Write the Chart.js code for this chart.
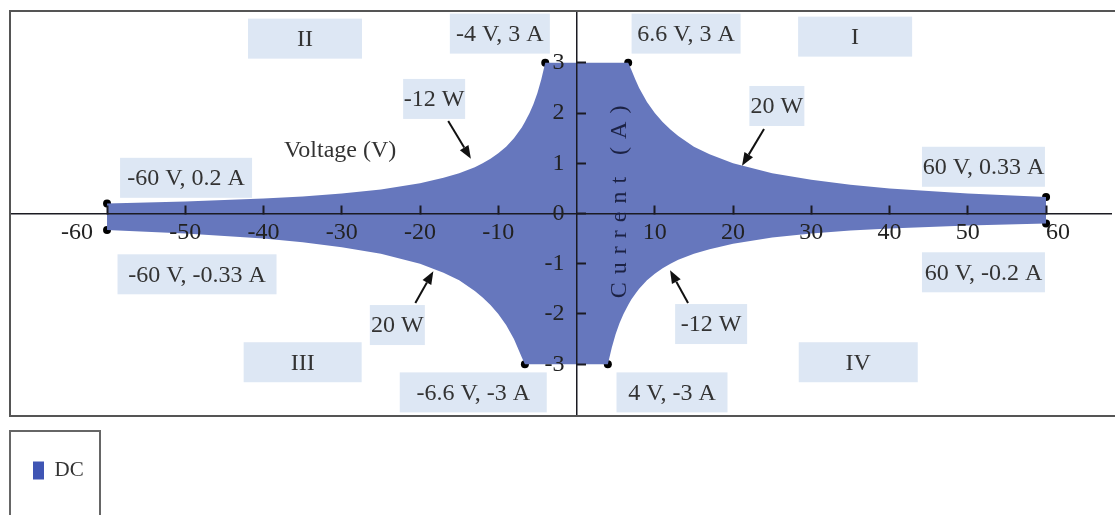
<!DOCTYPE html>
<html>
<head>
<meta charset="utf-8">
<script src="https://cdn.jsdelivr.net/npm/chart.js@4/dist/chart.umd.min.js"></script>
<style>
html,body{margin:0;padding:0;background:#fff;}
canvas{display:block;}
</style>
</head>
<body>
<canvas id="c" width="1115" height="515"></canvas>
<script>
// ---- data ----
const voltage = [-60,-50,-40,-35,-30,-25,-20,-17,-15,-13,-12,-11,-10,-9,-8,-7,-6.6,-6,-5.5,-5,-4.5,-4,0,4,4.5,5,5.5,6,6.6,7,7.5,8,9,10,11,12,13,15,17,20,25,30,35,40,50,60];
const currentUpper = [0.20,0.24,0.30,0.34,0.40,0.48,0.60,0.71,0.80,0.92,1.00,1.09,1.20,1.33,1.50,1.71,1.82,2.00,2.18,2.40,2.67,3,3,3,3,3,3,3,3,2.86,2.67,2.50,2.22,2.00,1.82,1.67,1.54,1.33,1.18,1.00,0.80,0.67,0.57,0.50,0.40,0.33];
const currentLower = [-0.33,-0.40,-0.50,-0.57,-0.67,-0.80,-1.00,-1.18,-1.33,-1.54,-1.67,-1.82,-2.00,-2.22,-2.50,-2.86,-3,-3,-3,-3,-3,-3,-3,-3,-2.67,-2.40,-2.18,-2.00,-1.82,-1.71,-1.60,-1.50,-1.33,-1.20,-1.09,-1.00,-0.92,-0.80,-0.71,-0.60,-0.48,-0.40,-0.34,-0.30,-0.24,-0.20];
const cornerVoltage = [-60,-60,-4,6.6,-6.6,4,60,60];
const cornerCurrent = [0.2,-0.33,3,3,-3,-3,0.33,-0.2];
const xTickValues = [-60,-50,-40,-30,-20,-10,10,20,30,40,50,60];
const yTickValues = [-3,-2,-1,0,1,2,3];
const seriesName = 'DC';

// ---- annotation texts (anchored in data units) ----
const boxLabels = [
  {text:'I', x:35.6, y:3.52, w:114},
  {text:'II', x:-34.7, y:3.48, w:114},
  {text:'III', x:-35.0, y:-2.96, w:118},
  {text:'IV', x:36.0, y:-2.96, w:119},
  {text:'-4 V, 3 A', x:-9.8, y:3.58, w:100},
  {text:'6.6 V, 3 A', x:14.0, y:3.58, w:109},
  {text:'-60 V, 0.2 A', x:-49.9, y:0.71, w:132},
  {text:'60 V, 0.33 A', x:52.0, y:0.93, w:123},
  {text:'-60 V, -0.33 A', x:-48.5, y:-1.21, w:159},
  {text:'60 V, -0.2 A', x:52.0, y:-1.17, w:123},
  {text:'-6.6 V, -3 A', x:-13.2, y:-3.56, w:147},
  {text:'4 V, -3 A', x:12.2, y:-3.56, w:111},
  {text:'-12 W', x:-18.2, y:2.28, w:62},
  {text:'20 W', x:25.6, y:2.14, w:55},
  {text:'20 W', x:-22.9, y:-2.22, w:55},
  {text:'-12 W', x:17.2, y:-2.2, w:72}
];
const arrows = [
  {x1:-16.4, y1:1.84, x2:-13.5, y2:1.09},
  {x1:23.96, y1:1.68, x2:21.15, y2:0.95},
  {x1:-20.6, y1:-1.78, x2:-18.3, y2:-1.15},
  {x1:14.25, y1:-1.78, x2:11.95, y2:-1.13}
];

const FONT = "'Liberation Serif', 'DejaVu Serif', serif";
const FILL = '#6677bd';
const LEGEND_COLOR = '#3f55b4';
const AXIS = '#1b1b22';

const upperPts = voltage.map((v,i)=>({x:v, y:currentUpper[i]}));
const lowerPts = voltage.map((v,i)=>({x:v, y:currentLower[i]}));
const cornerPts = cornerVoltage.map((v,i)=>({x:v, y:cornerCurrent[i]}));

// end labels sit outside the filled envelope, as in the reference
function xTickText(v) {
  if (v === xTickValues[0]) return String(v) + '          ';
  if (v === xTickValues[xTickValues.length - 1]) return '    ' + String(v);
  return String(v);
}

const decorPlugin = {
  id: 'decor',
  beforeDraw(chart) {
    const ctx = chart.ctx;
    ctx.save();
    ctx.fillStyle = '#fff';
    ctx.fillRect(0,0,chart.width,chart.height);
    ctx.restore();
  },
  afterDraw(chart) {
    const ctx = chart.ctx;
    const xs = chart.scales.x, ys = chart.scales.y;
    const a = chart.chartArea;
    ctx.save();
    // plot frame (right edge runs off the canvas as in the reference)
    ctx.strokeStyle = '#555';
    ctx.lineWidth = 2;
    ctx.strokeRect(a.left, a.top, chart.width + 10 - a.left, a.bottom - a.top);
    // legend frame
    const lg = chart.legend;
    ctx.strokeStyle = '#666';
    ctx.strokeRect(lg.left, lg.top + 15, 90, 110);

    // boxed labels
    ctx.font = '24px ' + FONT;
    ctx.textAlign = 'center';
    ctx.textBaseline = 'middle';
    boxLabels.forEach(b => {
      const cx = xs.getPixelForValue(b.x), cy = ys.getPixelForValue(b.y);
      ctx.fillStyle = '#dde7f4';
      ctx.fillRect(cx - b.w/2, cy - 20, b.w, 40);
      ctx.fillStyle = '#333';
      ctx.fillText(b.text, cx, cy + 1);
    });

    // axis titles inside the plot
    ctx.fillStyle = '#333';
    ctx.fillText('Voltage (V)', xs.getPixelForValue(-30.2), ys.getPixelForValue(1.24));
    ctx.save();
    ctx.translate(xs.getPixelForValue(5.56), ys.getPixelForValue(0.23));
    ctx.rotate(-Math.PI/2);
    ctx.fillStyle = '#1c2244';
    ctx.letterSpacing = '8px';
    ctx.fillText('Current (A)', 4, 0);
    ctx.restore();

    // arrows
    ctx.strokeStyle = '#111';
    ctx.fillStyle = '#111';
    ctx.lineWidth = 2;
    arrows.forEach(r => {
      const x1 = xs.getPixelForValue(r.x1), y1 = ys.getPixelForValue(r.y1);
      const x2 = xs.getPixelForValue(r.x2), y2 = ys.getPixelForValue(r.y2);
      const ang = Math.atan2(y2 - y1, x2 - x1);
      const hl = 13, hw = 5;
      const bx = x2 - hl*Math.cos(ang), by = y2 - hl*Math.sin(ang);
      ctx.beginPath();
      ctx.moveTo(x1, y1);
      ctx.lineTo(bx, by);
      ctx.stroke();
      ctx.beginPath();
      ctx.moveTo(x2, y2);
      ctx.lineTo(bx + hw*Math.sin(ang), by - hw*Math.cos(ang));
      ctx.lineTo(bx - hw*Math.sin(ang), by + hw*Math.cos(ang));
      ctx.closePath();
      ctx.fill();
    });
    ctx.restore();
  }
};

new Chart(document.getElementById('c'), {
  type: 'line',
  data: {
    datasets: [
      {label: seriesName, data: upperPts, borderWidth: 0, borderColor: FILL, backgroundColor: FILL,
       pointRadius: 0, tension: 0, fill: '+1'},
      {label: seriesName + ' lower', data: lowerPts, borderWidth: 0, borderColor: FILL, backgroundColor: FILL,
       pointRadius: 0, tension: 0, fill: false},
      {label: 'corners', data: cornerPts, showLine: false, pointRadius: 4, pointBackgroundColor: '#000',
       pointBorderColor: '#000', pointBorderWidth: 0, fill: false}
    ]
  },
  options: {
    responsive: false,
    animation: false,
    devicePixelRatio: 1,
    layout: {padding: {left: 10, top: 11, right: 0, bottom: 24}},
    plugins: {
      tooltip: {enabled: false},
      legend: {
        position: 'bottom',
        align: 'start',
        title: {display: true, text: '', padding: {top: 20, bottom: 0}, font: {size: 1, lineHeight: 1}},
        labels: {
          padding: 23, boxWidth: 11, boxHeight: 18,
          font: {family: FONT, size: 21}, color: '#333',
          generateLabels: () => [{text: seriesName, fillStyle: LEGEND_COLOR, strokeStyle: LEGEND_COLOR,
                                  fontColor: '#333', lineWidth: 0, hidden: false, datasetIndex: 0}]
        }
      }
    },
    scales: {
      x: {
        type: 'linear', min: -72.4, max: 68.3,
        position: {y: 0},
        afterBuildTicks: s => { s.ticks = xTickValues.map(v => ({value: v})); },
        grid: {z: 1, drawOnChartArea: false, drawTicks: true, tickLength: -9, tickColor: AXIS, tickWidth: 2},
        border: {z: 2, display: true, color: AXIS, width: 1.5},
        ticks: {z: 3, padding: 16, color: '#222', font: {family: FONT, size: 24, lineHeight: 1},
                maxRotation: 0, autoSkip: false, callback: v => xTickText(v)}
      },
      y: {
        type: 'linear', min: -4.03, max: 4.03,
        position: {x: 0},
        afterBuildTicks: s => { s.ticks = yTickValues.map(v => ({value: v})); },
        grid: {z: 1, drawOnChartArea: false, drawTicks: true, tickLength: -10, tickColor: AXIS, tickWidth: 2},
        border: {z: 2, display: true, color: AXIS, width: 1.5},
        ticks: {z: 3, padding: 0, color: '#222', font: {family: FONT, size: 24, lineHeight: 0.9},
                autoSkip: false, callback: v => String(v) + '  '}
      }
    }
  },
  plugins: [decorPlugin]
});
</script>
</body>
</html>
